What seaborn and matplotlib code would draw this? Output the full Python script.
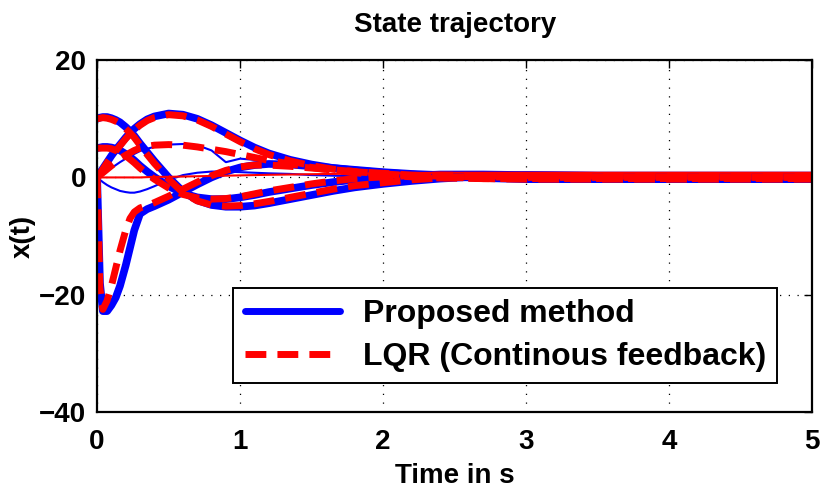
import numpy as np
import pandas as pd
import matplotlib
matplotlib.use("Agg")
import matplotlib.pyplot as plt
import seaborn as sns
from matplotlib.lines import Line2D

sns.set_style("white")
plt.rcParams['font.family'] = ['Liberation Sans', 'DejaVu Sans']
plt.rcParams['font.weight'] = 'bold'
plt.rcParams['text.color'] = 'black'
plt.rcParams['axes.labelcolor'] = 'black'
plt.rcParams['xtick.color'] = 'black'
plt.rcParams['ytick.color'] = 'black'

# ---- data ----
t = [0, 0.02, 0.04, 0.07, 0.1, 0.13, 0.16, 0.2, 0.23, 0.26, 0.3, 0.35, 0.4, 0.5, 0.6, 0.7, 0.8, 0.9,
     1.0, 1.1, 1.2, 1.35, 1.5, 1.65, 1.8, 2.0, 2.2, 2.4, 2.7, 3.0, 3.5, 4.0, 4.5, 5.0]

# Proposed method (blue, solid)
p_x1 = [10, 10.2, 10.3, 10.3, 10.1, 9.8, 9.4, 8.6, 7.9, 7.1, 5.8, 4.3, 2.8, 0.0, -2.4, -3.9, -4.7, -5.0,
        -5.0, -4.8, -4.4, -3.7, -3.0, -2.3, -1.7, -1.1, -0.6, -0.2, 0.2, 0.4, 0.3, 0.3, 0.3, 0.3]
p_x2 = [0, 0.8, 1.5, 2.6, 3.7, 4.7, 5.6, 6.8, 7.6, 8.3, 9.1, 9.9, 10.4, 10.9, 10.7, 10.0, 8.9, 7.6,
        6.3, 5.1, 4.1, 3.0, 2.2, 1.6, 1.2, 0.8, 0.5, 0.2, -0.1, -0.3, -0.3, -0.3, -0.3, -0.3]
p_x3 = [5, 5.1, 5.2, 5.2, 5.1, 4.9, 4.6, 4.0, 3.5, 2.9, 2.0, 1.0, 0.1, -1.5, -2.7, -3.4, -3.7, -3.7,
        -3.4, -3.0, -2.5, -1.9, -1.3, -0.8, -0.4, 0.0, 0.3, 0.5, 0.5, 0.4, 0.3, 0.3, 0.3, 0.3]
p_x4 = [0, 0.3, 0.6, 1.1, 1.6, 2.1, 2.6, 3.2, 3.6, 4.0, 4.5, 4.9, 5.2, 5.6, 5.7, 5.5, 4.6, 2.6,
        3.2, 3.0, 2.6, 2.1, 1.6, 1.2, 0.9, 0.6, 0.4, 0.3, 0.3, 0.3, 0.3, 0.3, 0.3, 0.3]
p_x5 = [0, -18.0, -22.8, -22.8, -21.8, -20.5, -18.5, -15.0, -12.0, -9.0, -6.2, -5.4, -4.9, -3.8, -2.5, -1.2, 0.0, 1.0,
        1.7, 2.1, 2.3, 2.2, 1.9, 1.6, 1.3, 0.9, 0.6, 0.4, 0.2, 0.1, 0.0, 0.0, 0.0, 0.0]
p_x6 = [0, -0.4, -0.8, -1.3, -1.7, -2.0, -2.3, -2.5, -2.6, -2.6, -2.4, -2.0, -1.5, -0.4, 0.4, 0.8, 1.0, 1.0,
        0.9, 0.8, 0.7, 0.6, 0.4, 0.3, 0.2, 0.1, 0.0, -0.1, -0.1, -0.1, -0.1, -0.1, -0.1, -0.1]

# LQR (continuous feedback) (red, dashed)
l_x1 = [10, 10.1, 10.2, 10.1, 9.9, 9.6, 9.2, 8.3, 7.6, 6.8, 5.5, 3.9, 2.4, -0.3, -2.6, -4.0, -4.7, -4.9,
        -4.8, -4.5, -4.1, -3.4, -2.7, -2.0, -1.4, -0.9, -0.4, -0.1, 0.2, 0.3, 0.2, 0.2, 0.2, 0.2]
l_x2 = [0, 0.7, 1.4, 2.5, 3.6, 4.5, 5.4, 6.6, 7.4, 8.1, 8.9, 9.7, 10.2, 10.7, 10.5, 9.8, 8.7, 7.4,
        6.1, 4.9, 3.9, 2.8, 2.0, 1.4, 1.0, 0.6, 0.3, 0.1, -0.2, -0.3, -0.3, -0.3, -0.3, -0.3]
l_x3 = [5, 5.0, 5.0, 5.0, 4.9, 4.6, 4.3, 3.7, 3.1, 2.5, 1.6, 0.6, -0.3, -1.8, -2.9, -3.5, -3.7, -3.6,
        -3.3, -2.8, -2.3, -1.7, -1.1, -0.6, -0.2, 0.1, 0.3, 0.4, 0.3, 0.2, 0.1, 0.1, 0.1, 0.1]
l_x4 = [0, 0.4, 0.8, 1.4, 2.0, 2.6, 3.2, 3.8, 4.2, 4.6, 5.0, 5.3, 5.5, 5.6, 5.5, 5.2, 4.8, 4.4,
        3.9, 3.4, 2.9, 2.3, 1.7, 1.2, 0.8, 0.4, 0.1, -0.1, -0.2, -0.2, -0.2, -0.2, -0.2, -0.2]
l_x5 = [0, -19.0, -22.5, -21.0, -18.5, -15.5, -12.5, -9.0, -7.0, -5.9, -5.2, -4.8, -4.3, -3.2, -2.0, -0.8, 0.3, 1.2,
        1.8, 2.1, 2.1, 1.9, 1.6, 1.3, 1.0, 0.7, 0.4, 0.2, 0.1, 0.0, 0.0, 0.0, 0.0, 0.0]
l_x6 = [0, 0.0, 0.0, 0.0, 0.0, 0.0, 0.0, 0.0, 0.0, 0.0, 0.0, 0.05, 0.1, 0.1, 0.15, 0.2, 0.25, 0.3,
        0.35, 0.4, 0.45, 0.5, 0.55, 0.6, 0.65, 0.7, 0.75, 0.8, 0.8, 0.8, 0.8, 0.8, 0.8, 0.8]

legend_labels = ["Proposed method", "LQR (Continous feedback)"]
title_text = "State trajectory"
xlabel_text = "Time in s"
ylabel_text = "x(t)"
xticks = [0, 1, 2, 3, 4, 5]
yticks = [-40, -20, 0, 20]
ytick_labels = ["\u221240", "\u221220", "0", "20"]

blue = "#0000ff"
red = "#ff0000"

fig = plt.figure(figsize=(8.23, 4.97), dpi=100)
ax = fig.add_axes([0.118, 0.171, 0.869, 0.708])

ax.grid(True, color="black", linestyle=(0, (1, 6)), linewidth=0.9)
ax.set_axisbelow(True)

prop = [p_x1, p_x2, p_x3, p_x4, p_x5, p_x6]
lqr = [l_x1, l_x2, l_x3, l_x4, l_x5, l_x6]
p_lw = [5.5, 5.5, 5.5, 1.5, 5.5, 1.5]
l_lw = [5.0, 5.0, 5.0, 5.0, 5.0, 1.5]

for i in range(6):
    sns.lineplot(x=t, y=prop[i], ax=ax, color=blue, linewidth=p_lw[i],
                 estimator=None, sort=False, legend=False)
for i in range(6):
    sns.lineplot(x=t, y=lqr[i], ax=ax, color=red, linewidth=l_lw[i],
                 estimator=None, sort=False, legend=False)
    if l_lw[i] > 2:
        ax.lines[-1].set_dashes((3, 1.6))

ax.set_xlim(0, 5)
ax.set_ylim(-40, 20)
ax.set_xticks(xticks)
ax.set_yticks(yticks)
ax.set_yticklabels(ytick_labels)

for s in ax.spines.values():
    s.set_visible(True)
    s.set_color("black")
    s.set_linewidth(1.6)
ax.tick_params(direction="in", length=6, width=1.0, top=True, right=True,
               labelsize=20, colors="black")
ax.tick_params(axis="x", pad=12)
ax.tick_params(axis="y", pad=8)
for lab in ax.get_xticklabels() + ax.get_yticklabels():
    lab.set_fontweight("bold")

ax.set_title(title_text, fontsize=20, fontweight="bold", pad=20, color="black")
ax.set_xlabel(xlabel_text, fontsize=20, fontweight="bold", labelpad=6)
ax.set_ylabel(ylabel_text, fontsize=20, fontweight="bold", labelpad=2)

handles = [Line2D([0], [0], color=blue, lw=5),
           Line2D([0], [0], color=red, lw=5, dashes=(3, 1.6))]
leg = ax.legend(handles, legend_labels, loc="lower right",
                bbox_to_anchor=(0.951, 0.082), frameon=True, fancybox=False,
                edgecolor="black", framealpha=1, handlelength=3.0,
                borderpad=0.35, labelspacing=0.4, handletextpad=0.7,
                borderaxespad=0,
                prop={"family": ["Liberation Sans", "DejaVu Sans"], "weight": "bold", "size": 23})
leg.get_frame().set_linewidth(1.4)

fig.savefig("out.png", dpi=100)
